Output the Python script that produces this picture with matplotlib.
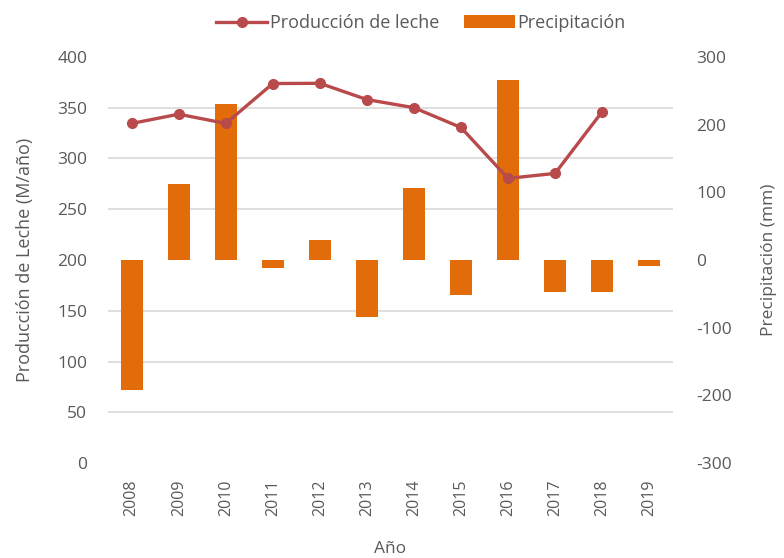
import matplotlib
matplotlib.use("Agg")
import matplotlib.pyplot as plt
from matplotlib.lines import Line2D
from matplotlib.patches import Patch
import numpy as np

years = ["2008", "2009", "2010", "2011", "2012", "2013", "2014", "2015", "2016", "2017", "2018", "2019"]
leche = [334.5, 343.6, 334.5, 373.8, 374.0, 358.0, 350.0, 330.5, 280.4, 285.3, 346.0, None]
precip = [-192.7, 112.0, 230.0, -12.3, 29.5, -83.6, 106.6, -51.6, 266.5, -47.7, -47.7, -8.4]

plt.rcParams['font.family'] = ['Open Sans', 'DejaVu Sans']
plt.rcParams['axes.unicode_minus'] = False
gray = '#595959'
line_color = '#B84A4C'
bar_color = '#E36C0A'
grid_color = '#D9D9D9'

fig = plt.figure(figsize=(7.84, 5.58), dpi=100)
ax = fig.add_axes([0.138, 0.170, 0.720, 0.728])
ax2 = ax.twinx()

x = np.arange(len(years))

# bars on secondary axis
ax2.bar(x, precip, width=0.47, color=bar_color, zorder=3)
ax2.set_ylim(-300, 300)
ax2.set_yticks(np.arange(-300, 301, 100))
ax2.set_yticks(np.arange(-300, 301, 75), minor=True)
ax2.yaxis.grid(True, which='minor', color=grid_color, linewidth=1.2, zorder=0)
ax2.yaxis.grid(False, which='major')
ax2.set_axisbelow(True)
ax2.tick_params(axis='y', which='both', length=0, pad=17, labelsize=12.5, labelcolor=gray)
ax2.set_ylabel("Precipitación (mm)", color=gray, fontsize=12.5, labelpad=21)

# line on primary axis, drawn on top
ax.set_zorder(ax2.get_zorder() + 1)
ax.patch.set_visible(False)
lx = [i for i, v in enumerate(leche) if v is not None]
ly = [v for v in leche if v is not None]
ax.plot(lx, ly, color=line_color, linewidth=2.4, marker='o', markersize=7, zorder=4)
ax.set_ylim(0, 400)
ax.set_yticks(np.arange(0, 401, 50))
ax.set_xlim(-0.5, len(years) - 0.5)
ax.set_xticks(x)
ax.set_xticklabels(years, rotation=90, fontsize=11.5, color=gray)
ax.tick_params(axis='y', length=0, pad=15, labelsize=12.5, labelcolor=gray)
ax.tick_params(axis='x', length=0, pad=12)
ax.set_ylabel("Producción de Leche (M/año)", color=gray, fontsize=13, labelpad=17)
ax.set_xlabel("Año", color=gray, fontsize=12.5, labelpad=18)

for a in (ax, ax2):
    for s in a.spines.values():
        s.set_visible(False)

handles = [Line2D([0], [0], color=line_color, linewidth=2.4, marker='o', markersize=7),
           Patch(facecolor=bar_color)]
fig.legend(handles, ["Producción de leche", "Precipitación"], loc='center',
           bbox_to_anchor=(0.537, 0.959), ncol=2, frameon=False, fontsize=13,
           labelcolor=gray, handlelength=2.8, handleheight=0.7, handletextpad=0.15,
           columnspacing=1.4)

fig.savefig("out.png", dpi=100, facecolor='white')
